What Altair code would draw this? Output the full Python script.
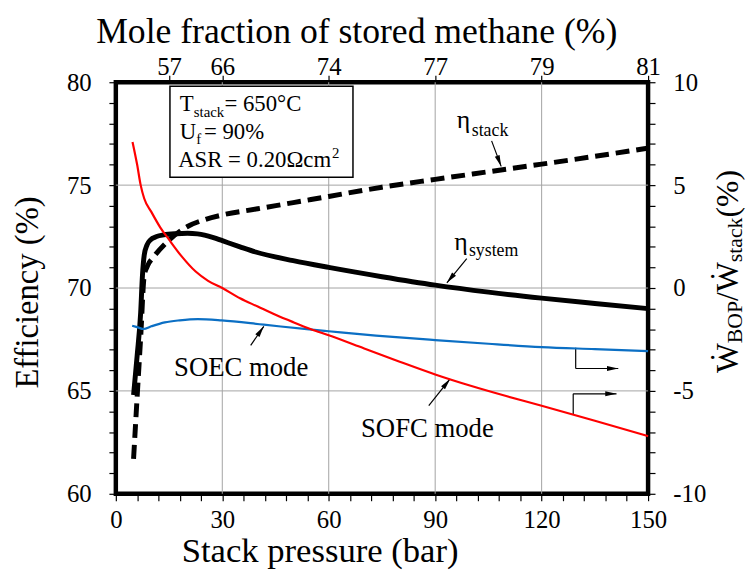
import math
import altair as alt
import pandas as pd

# ---------------- values ----------------
# eta_system (left axis, %)
sys_p = [5, 6, 7, 7.5, 8, 8.8, 9.7, 11.5, 13.5, 17, 20.2, 23, 25, 27.5, 30, 35, 39.4, 50, 60, 75,
         90, 105, 120, 135, 150]
sys_eff = [64.8, 66.7, 68.8, 70.6, 71.6, 72.1, 72.33, 72.5, 72.58, 72.64, 72.66, 72.63, 72.57, 72.45,
           72.3, 72.0, 71.75, 71.33, 71.0, 70.55, 70.14, 69.8, 69.51, 69.25, 69.0]
# eta_stack (left axis, %)
stack_p = [5, 6, 7, 8, 9, 10.6, 14.5, 20.2, 25, 30, 40, 50, 60, 75, 90, 105, 120, 135, 150]
stack_eff = [61.7, 64.7, 67.6, 70.6, 71.1, 71.5, 72.25, 72.99, 73.32, 73.55, 73.85, 74.15, 74.45,
             74.9, 75.28, 75.65, 76.02, 76.4, 76.8]
# W_BOP / W_stack, SOFC mode (right axis, %)
sofc_p = [4.7, 6, 7, 8, 10, 12.5, 15, 18.5, 22.5, 26, 30, 35, 40, 45, 50, 55, 60, 70, 80, 90, 100,
          110, 120, 135, 150]
sofc_bop = [7.1, 6.0, 5.0, 4.35, 3.7, 2.95, 2.35, 1.55, 0.8, 0.35, 0.0, -0.5, -0.9, -1.3, -1.66,
            -2.0, -2.3, -2.94, -3.58, -4.2, -4.75, -5.25, -5.72, -6.45, -7.2]
# W_BOP / W_stack, SOEC mode (right axis, %)
soec_p = [4.6, 6, 7.8, 10, 13.8, 18, 23.1, 29.8, 41.7, 53.8, 60, 73.3, 90, 105, 120, 135, 150]
soec_bop = [-1.83, -1.9, -1.99, -1.86, -1.67, -1.57, -1.51, -1.57, -1.78, -2.0, -2.1, -2.31, -2.53,
            -2.71, -2.87, -2.97, -3.07]

# axes
x_ticks = list(range(0, 151, 6))
yl_ticks = list(range(60, 81))
yr_ticks = list(range(-10, 11))
top_tick_p = [15, 30, 60, 90, 120, 150]
top_tick_lbl = ["57", "66", "74", "77", "79", "81"]
grid_x = [30, 60, 90, 120]
grid_y = [65, 70, 75]

# in-plot labels (data coordinates of the left axis)
lab_x = [96.1, 100.3, 95.4, 99.5, 16.4, 69.1]
lab_y = [77.76, 77.4, 71.86, 71.55, 65.71, 62.74]
lab_t = ["η", "stack", "η", "system", "SOEC mode", "SOFC mode"]
lab_fs = [26, 18, 26, 18, 27, 27]

# arrows: polylines, head at the last point
arrows = [
    [(105.9, 77.15), (108.6, 75.91)],
    [(98.9, 71.43), (93.3, 70.25)],
    [(38.0, 67.21), (41.7, 68.14)],
    [(88.2, 64.29), (94.2, 65.58)],
    [(129.6, 67.10), (129.6, 66.09), (141.6, 66.09)],
    [(128.9, 63.85), (128.9, 64.86), (141.1, 64.86)],
]

# ---------------- layout ----------------
W, H = 538, 416
FONT = "Liberation Serif"
GRID = "#a3a3a3"
HEAD = "M0,-1L0.45,1L-0.45,1Z"
HEAD_SIZE = 130


def px(x):
    return x / 150 * W


def py(v):
    return (80 - v) / 20 * H


xs = alt.Scale(domain=[0, 150], nice=False, zero=False)
yl = alt.Scale(domain=[60, 80], nice=False, zero=False)
yr = alt.Scale(domain=[-10, 10], nice=False, zero=False)

common = dict(domain=False, grid=False, tickColor="black", tickWidth=1.2, labelFont=FONT,
              labelColor="black", titleFont=FONT, titleColor="black", titleFontWeight="normal",
              labelOverlap=False, labelFlush=False, labelFontSize=25)

five = "datum.value % 5 === 0 ? '' + datum.value : ''"

x_axis = alt.Axis(values=x_ticks, labelExpr="datum.value % 30 === 0 ? '' + datum.value : ''",
                  title="Stack pressure (bar)", titleFontSize=35, tickSize=7,
                  labelBaseline="alphabetic", labelPadding=27, titleX=206, titleY=68,
                  titleBaseline="alphabetic", titleAlign="center", **common)
yl_axis = alt.Axis(values=yl_ticks, labelExpr=five, title="Efficiency (%)", titleFontSize=33,
                   tickSize=7, labelPadding=18, titleX=-79, titleY=212, titleAngle=270,
                   titleBaseline="alphabetic", titleAlign="center", **common)
yr_axis = alt.Axis(orient="right", values=yr_ticks, labelExpr=five, title="", tickSize=7,
                   labelPadding=18, **common)

top_expr = "''"
for p, l in reversed(list(zip(top_tick_p, top_tick_lbl))):
    top_expr = f"datum.value === {p} ? '{l}' : ({top_expr})"
top_axis = alt.Axis(orient="top", values=top_tick_p, labelExpr=top_expr,
                    title="Mole fraction of stored methane (%)", titleFontSize=36, tickSize=7,
                    labelBaseline="alphabetic", labelPadding=1, titleX=243, titleY=-40,
                    titleBaseline="alphabetic", titleAlign="center", **common)


def X(f):
    return alt.X(f, type="quantitative", scale=xs, axis=x_axis)


def YL(f):
    return alt.Y(f, type="quantitative", scale=yl, axis=yl_axis)


dummy = pd.DataFrame({"d": [0]})

# grid
gx = alt.Chart(pd.DataFrame({"p": grid_x})).mark_rule(color=GRID, strokeWidth=1).encode(x=X("p"))
gy = alt.Chart(pd.DataFrame({"v": grid_y})).mark_rule(color=GRID, strokeWidth=1).encode(y=YL("v"))

# text box
box = alt.Chart(dummy).mark_rect(fill="white", stroke="black", strokeWidth=1.5).encode(
    x=alt.value(54.7), x2=alt.value(239.7), y=alt.value(4), y2=alt.value(96))
box_pieces = [
    ("T", 64.7, 29.5, 23), ("stack", 78.8, 34.8, 15), (" = 650°C", 109.8, 29.5, 23),
    ("U", 64.7, 57, 23), ("f", 81.3, 62.5, 15), ("= 90%", 89, 57, 23),
    ("ASR = 0.20Ωcm", 63, 86, 23), ("2", 218.5, 77, 15),
]
box_txt = [
    alt.Chart(dummy).mark_text(text=t, font=FONT, fontSize=fs, align="left", baseline="alphabetic",
                               color="black").encode(x=alt.value(x), y=alt.value(y))
    for t, x, y, fs in box_pieces
]

# curves
sys_line = alt.Chart(pd.DataFrame({"p": sys_p, "e": sys_eff})).mark_line(
    color="black", strokeWidth=5, interpolate="monotone").encode(x=X("p"), y=YL("e"))
stack_line = alt.Chart(pd.DataFrame({"p": stack_p, "e": stack_eff})).mark_line(
    color="black", strokeWidth=5, strokeDash=[14, 7], interpolate="monotone").encode(x=X("p"), y=YL("e"))

# labels
labels = alt.Chart(pd.DataFrame({"x": lab_x, "y": lab_y, "t": lab_t, "fs": lab_fs})).mark_text(
    font=FONT, align="left", baseline="alphabetic", color="black").encode(
    x=X("x"), y=YL("y"), text="t:N", size=alt.Size("fs:Q", scale=None, legend=None))

# arrows
segs = {"x1": [], "y1": [], "x2": [], "y2": []}
heads = {"x": [], "y": [], "ang": []}
r = math.sqrt(HEAD_SIZE) / 2
for pts in arrows:
    for (a, b), (c, d) in zip(pts[:-1], pts[1:]):
        segs["x1"].append(a); segs["y1"].append(b); segs["x2"].append(c); segs["y2"].append(d)
    (a, b), (c, d) = pts[-2], pts[-1]
    dx, dy = px(c) - px(a), py(d) - py(b)
    L = math.hypot(dx, dy)
    ux, uy = dx / L, dy / L
    heads["x"].append(c - r * ux * 150 / W)
    heads["y"].append(d + r * uy * 20 / H)
    heads["ang"].append(math.degrees(math.atan2(dx, -dy)) % 360)

seg_layer = alt.Chart(pd.DataFrame(segs)).mark_rule(color="black", strokeWidth=1.2).encode(
    x=X("x1"), x2="x2:Q", y=YL("y1"), y2="y2:Q")
head_layer = alt.Chart(pd.DataFrame(heads)).mark_point(
    shape=HEAD, filled=True, color="black", opacity=1, size=HEAD_SIZE, strokeWidth=0).encode(
    x=X("x"), y=YL("y"), angle=alt.Angle("ang:Q", scale=None))

# right axis title built from pieces (rotated)
widths = {"Ẇ": 0.944, "BOP": 1.945, "/": 0.278, "stack": 2.055, " (%)": 1.749}
MAIN, SUB = 32, 22
title_parts = [("Ẇ", MAIN), ("BOP", SUB), ("/", MAIN), ("Ẇ", MAIN), ("stack", SUB), (" (%)", MAIN)]
ypos = 294
rt = []
for t, fs in title_parts:
    xb = 629 if fs == MAIN else 633
    rt.append(alt.Chart(dummy).mark_text(text=t, font=FONT, fontSize=fs, angle=270, align="left",
                                         baseline="alphabetic", color="black").encode(
        x=alt.value(xb), y=alt.value(ypos)))
    ypos -= widths[t] * fs

left = alt.layer(gx, gy, box, *box_txt, stack_line, sys_line, labels, seg_layer, head_layer, *rt)

sofc_line = alt.Chart(pd.DataFrame({"p": sofc_p, "b": sofc_bop})).mark_line(
    color="#ff0000", strokeWidth=2.2, interpolate="monotone").encode(
    x=alt.X("p:Q", scale=xs, axis=None), y=alt.Y("b:Q", scale=yr, axis=yr_axis))
soec_line = alt.Chart(pd.DataFrame({"p": soec_p, "b": soec_bop})).mark_line(
    color="#0b6fc4", strokeWidth=2.2, interpolate="monotone").encode(
    x=alt.X("p:Q", scale=xs, axis=None), y=alt.Y("b:Q", scale=yr, axis=yr_axis))
right = alt.layer(soec_line, sofc_line)

top = alt.Chart(pd.DataFrame({"p": top_tick_p})).mark_point(opacity=0).encode(
    x=alt.X("p:Q", scale=xs, axis=top_axis))

chart = alt.layer(left, right, top).resolve_scale(x="independent", y="independent").properties(
    width=W, height=H,
    padding={"left": 109, "top": 72, "right": 101, "bottom": 75},
    autosize=alt.AutoSizeParams(type="none"),
    background="white",
).configure_view(stroke="black", strokeWidth=4.5)

chart.save("out.html", embed_options={"renderer": "svg", "actions": False})
